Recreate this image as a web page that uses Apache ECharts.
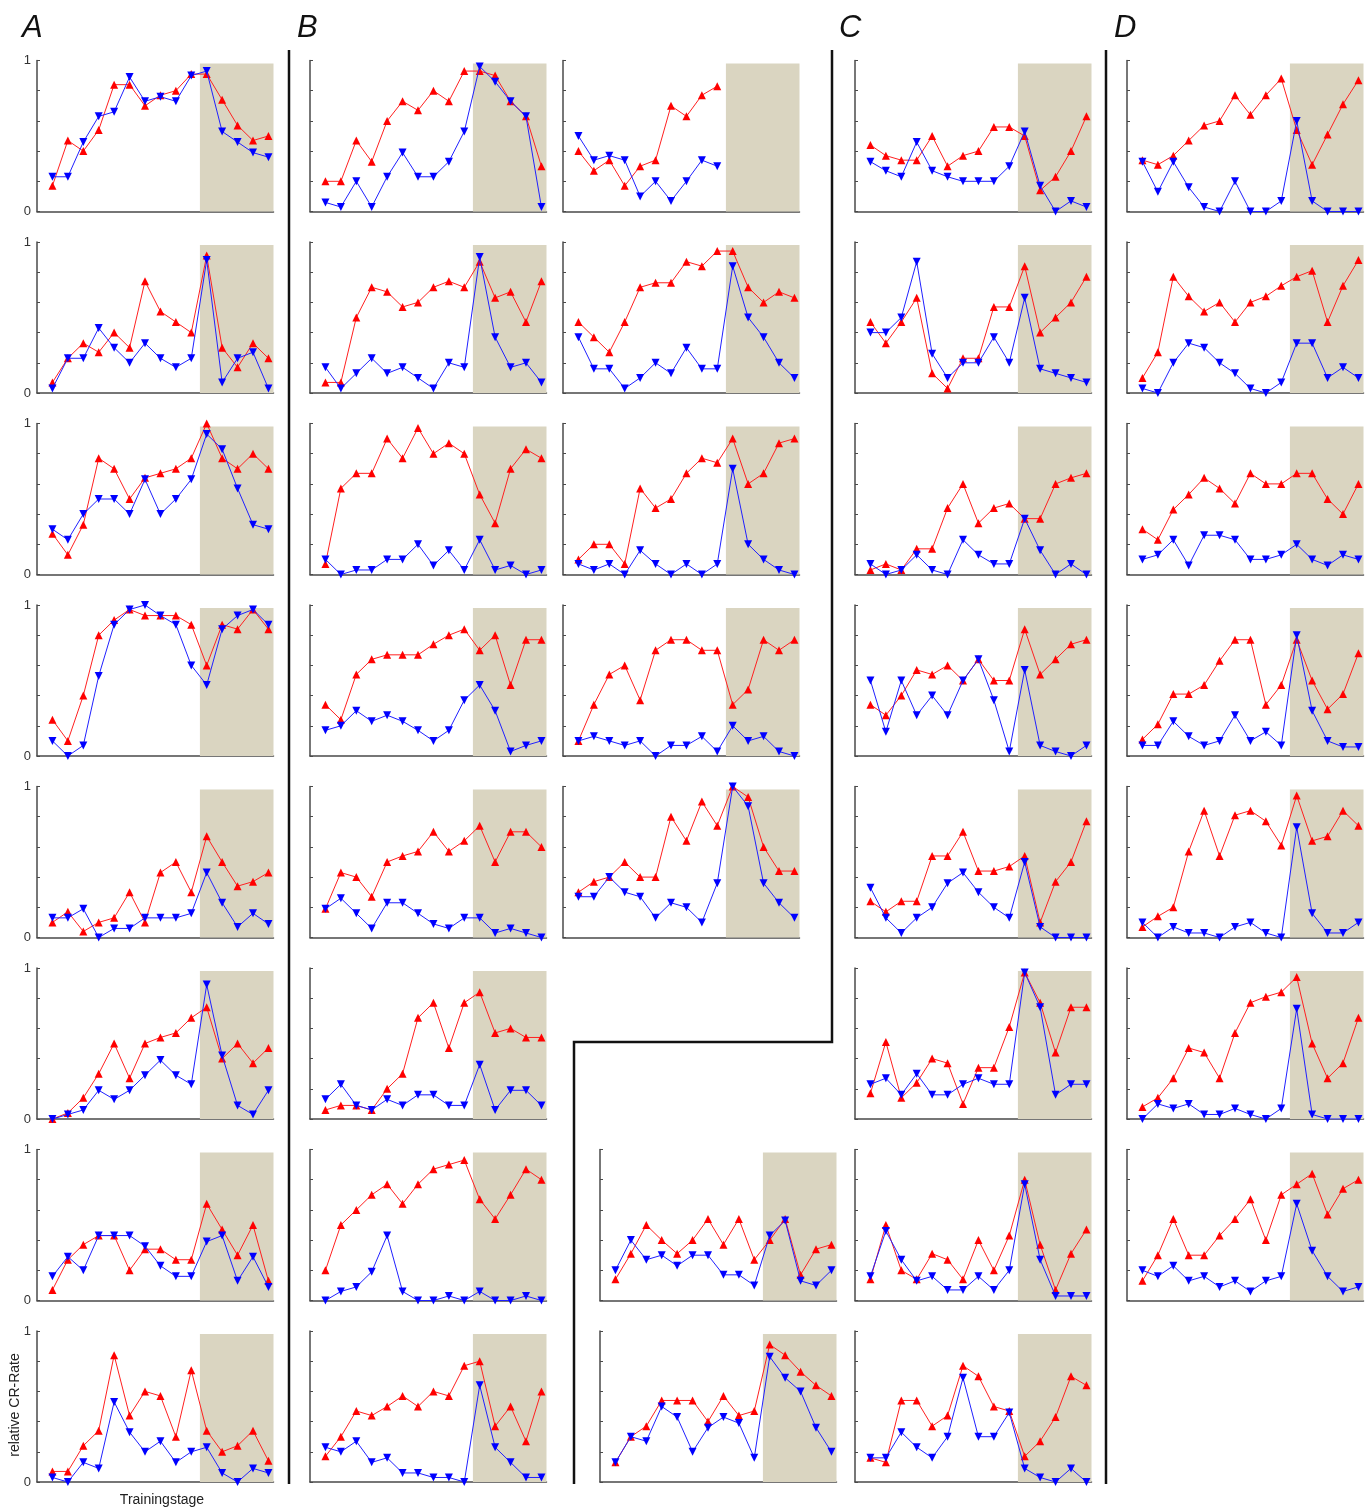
<!DOCTYPE html>
<html><head><meta charset="utf-8">
<script src="https://cdn.jsdelivr.net/npm/echarts@6/dist/echarts.min.js"></script>
<style>html,body{margin:0;padding:0;background:#fff}#c{width:1372px;height:1508px}</style>
</head><body><div id="c"></div>
<script>
const stages = [1,2,3,4,5,6,7,8,9,10,11,12,13,14,15];
const yTickLabels = ['0','1'];
const panelLetters = ['A','B','C','D'];

const A1r = [0.17,0.47,0.40,0.54,0.84,0.84,0.70,0.77,0.80,0.91,0.91,0.74,0.57,0.47,0.50];
const A1b = [0.23,0.23,0.46,0.63,0.66,0.89,0.73,0.76,0.73,0.90,0.93,0.53,0.46,0.39,0.36];
const A2r = [0.07,0.23,0.33,0.27,0.40,0.30,0.74,0.54,0.47,0.40,0.91,0.30,0.17,0.33,0.23];
const A2b = [0.03,0.23,0.23,0.43,0.30,0.20,0.33,0.23,0.17,0.23,0.88,0.07,0.23,0.27,0.03];
const A3r = [0.27,0.13,0.33,0.77,0.70,0.50,0.64,0.67,0.70,0.77,1.00,0.77,0.70,0.80,0.70];
const A3b = [0.30,0.23,0.40,0.50,0.50,0.40,0.63,0.40,0.50,0.63,0.93,0.83,0.57,0.33,0.30];
const A4r = [0.24,0.10,0.40,0.80,0.90,0.97,0.93,0.93,0.93,0.87,0.60,0.87,0.84,0.97,0.84];
const A4b = [0.10,0.00,0.07,0.53,0.87,0.97,1.00,0.93,0.87,0.60,0.47,0.84,0.93,0.97,0.87];
const A5r = [0.10,0.17,0.04,0.10,0.13,0.30,0.10,0.43,0.50,0.30,0.67,0.50,0.34,0.37,0.43];
const A5b = [0.13,0.13,0.19,0.00,0.06,0.06,0.13,0.13,0.13,0.16,0.43,0.23,0.07,0.16,0.09];
const A6r = [0.00,0.04,0.14,0.30,0.50,0.27,0.50,0.54,0.57,0.67,0.74,0.40,0.50,0.37,0.47];
const A6b = [0.00,0.03,0.06,0.19,0.13,0.19,0.29,0.39,0.29,0.23,0.89,0.42,0.09,0.03,0.19];
const A7r = [0.07,0.27,0.37,0.43,0.43,0.20,0.34,0.34,0.27,0.27,0.64,0.47,0.30,0.50,0.13];
const A7b = [0.16,0.29,0.20,0.43,0.43,0.43,0.36,0.23,0.16,0.16,0.39,0.43,0.13,0.29,0.09];
const A8r = [0.07,0.07,0.24,0.34,0.84,0.44,0.60,0.57,0.30,0.74,0.34,0.20,0.24,0.34,0.14];
const A8b = [0.03,0.00,0.13,0.09,0.53,0.33,0.20,0.27,0.13,0.20,0.23,0.06,0.00,0.09,0.06];

const B1r = [0.20,0.20,0.47,0.33,0.60,0.73,0.67,0.80,0.73,0.93,0.93,0.90,0.73,0.63,0.30];
const B1b = [0.06,0.03,0.20,0.03,0.23,0.39,0.23,0.23,0.33,0.53,0.96,0.86,0.73,0.63,0.03];
const B2r = [0.07,0.07,0.50,0.70,0.67,0.57,0.60,0.70,0.74,0.70,0.87,0.63,0.67,0.47,0.74];
const B2b = [0.17,0.03,0.13,0.23,0.13,0.17,0.10,0.03,0.20,0.17,0.90,0.37,0.17,0.20,0.07];
const B3r = [0.07,0.57,0.67,0.67,0.90,0.77,0.97,0.80,0.87,0.80,0.53,0.34,0.70,0.83,0.77];
const B3b = [0.10,0.00,0.03,0.03,0.10,0.10,0.20,0.06,0.16,0.03,0.23,0.03,0.06,0.00,0.03];
const B4r = [0.34,0.24,0.54,0.64,0.67,0.67,0.67,0.74,0.80,0.84,0.70,0.80,0.47,0.77,0.77];
const B4b = [0.17,0.20,0.30,0.23,0.27,0.23,0.17,0.10,0.17,0.37,0.47,0.30,0.03,0.07,0.10];
const B5r = [0.19,0.43,0.40,0.27,0.50,0.54,0.57,0.70,0.57,0.64,0.74,0.50,0.70,0.70,0.60];
const B5b = [0.19,0.26,0.16,0.06,0.23,0.23,0.16,0.09,0.06,0.13,0.13,0.03,0.06,0.03,0.00];
const B6r = [0.06,0.09,0.09,0.06,0.20,0.30,0.67,0.77,0.47,0.77,0.84,0.57,0.60,0.54,0.54];
const B6b = [0.13,0.23,0.09,0.06,0.13,0.09,0.16,0.16,0.09,0.09,0.36,0.06,0.19,0.19,0.09];
const B7r = [0.20,0.50,0.60,0.70,0.77,0.64,0.77,0.87,0.90,0.93,0.67,0.54,0.70,0.87,0.80];
const B7b = [0.00,0.06,0.09,0.19,0.43,0.06,0.00,0.00,0.03,0.00,0.06,0.00,0.00,0.03,0.00];
const B8r = [0.17,0.30,0.47,0.44,0.50,0.57,0.50,0.60,0.57,0.77,0.80,0.37,0.50,0.27,0.60];
const B8b = [0.23,0.20,0.27,0.13,0.16,0.06,0.06,0.03,0.03,0.00,0.64,0.23,0.13,0.03,0.03];

const BR1r = [0.40,0.27,0.34,0.17,0.30,0.34,0.70,0.63,0.77,0.83,null,null,null,null,null];
const BR1b = [0.50,0.34,0.37,0.34,0.10,0.20,0.07,0.20,0.34,0.30,null,null,null,null,null];
const BR2r = [0.47,0.37,0.27,0.47,0.70,0.73,0.73,0.87,0.84,0.94,0.94,0.70,0.60,0.67,0.63];
const BR2b = [0.37,0.16,0.16,0.03,0.10,0.20,0.13,0.30,0.16,0.16,0.84,0.50,0.37,0.20,0.10];
const BR3r = [0.10,0.20,0.20,0.07,0.57,0.44,0.50,0.67,0.77,0.74,0.90,0.60,0.67,0.87,0.90];
const BR3b = [0.07,0.03,0.07,0.00,0.16,0.07,0.00,0.07,0.00,0.07,0.70,0.20,0.10,0.03,0.00];
const BR4r = [0.10,0.34,0.54,0.60,0.37,0.70,0.77,0.77,0.70,0.70,0.34,0.44,0.77,0.70,0.77];
const BR4b = [0.10,0.13,0.10,0.07,0.10,0.00,0.07,0.07,0.13,0.03,0.20,0.10,0.13,0.03,0.00];
const BR5r = [0.30,0.37,0.40,0.50,0.40,0.40,0.80,0.64,0.90,0.74,1.00,0.93,0.60,0.44,0.44];
const BR5b = [0.27,0.27,0.40,0.30,0.27,0.13,0.23,0.20,0.10,0.36,1.00,0.87,0.36,0.23,0.13];

const CX7r = [0.14,0.31,0.50,0.40,0.31,0.40,0.54,0.37,0.54,0.27,0.40,0.54,0.17,0.34,0.37];
const CX7b = [0.20,0.40,0.27,0.30,0.23,0.30,0.30,0.17,0.17,0.10,0.43,0.53,0.13,0.10,0.20];
const CX8r = [0.13,0.30,0.37,0.54,0.54,0.54,0.40,0.57,0.44,0.47,0.91,0.84,0.73,0.64,0.57];
const CX8b = [0.13,0.30,0.27,0.50,0.43,0.20,0.36,0.43,0.39,0.16,0.83,0.69,0.60,0.36,0.20];

const C1r = [0.44,0.37,0.34,0.34,0.50,0.30,0.37,0.40,0.56,0.56,0.50,0.14,0.23,0.40,0.63];
const C1b = [0.33,0.27,0.23,0.46,0.27,0.23,0.20,0.20,0.20,0.30,0.53,0.17,0.00,0.07,0.03];
const C2r = [0.47,0.33,0.47,0.63,0.13,0.03,0.23,0.23,0.57,0.57,0.84,0.40,0.50,0.60,0.77];
const C2b = [0.40,0.40,0.50,0.87,0.26,0.10,0.20,0.20,0.37,0.20,0.63,0.16,0.13,0.10,0.07];
const C3r = [0.03,0.07,0.03,0.17,0.17,0.44,0.60,0.34,0.44,0.47,0.37,0.37,0.60,0.64,0.67];
const C3b = [0.07,0.00,0.03,0.13,0.03,0.00,0.23,0.13,0.07,0.07,0.37,0.16,0.00,0.07,0.00];
const C4r = [0.34,0.27,0.40,0.57,0.54,0.60,0.50,0.64,0.50,0.50,0.84,0.54,0.64,0.74,0.77];
const C4b = [0.50,0.16,0.50,0.27,0.40,0.27,0.50,0.64,0.37,0.03,0.57,0.07,0.03,0.00,0.07];
const C5r = [0.24,0.17,0.24,0.24,0.54,0.54,0.70,0.44,0.44,0.47,0.54,0.10,0.37,0.50,0.77];
const C5b = [0.33,0.13,0.03,0.13,0.20,0.36,0.43,0.30,0.20,0.13,0.50,0.07,0.00,0.00,0.00];
const C6r = [0.17,0.51,0.14,0.24,0.40,0.37,0.10,0.34,0.34,0.61,0.97,0.77,0.44,0.74,0.74];
const C6b = [0.23,0.27,0.16,0.30,0.16,0.16,0.23,0.27,0.23,0.23,0.97,0.74,0.16,0.23,0.23];
const C7r = [0.14,0.50,0.20,0.14,0.31,0.27,0.14,0.40,0.20,0.43,0.80,0.37,0.07,0.31,0.47];
const C7b = [0.16,0.46,0.27,0.13,0.16,0.07,0.07,0.16,0.07,0.20,0.77,0.27,0.03,0.03,0.03];
const C8r = [0.16,0.13,0.54,0.54,0.37,0.44,0.77,0.70,0.50,0.47,0.17,0.27,0.43,0.70,0.64];
const C8b = [0.16,0.16,0.33,0.23,0.16,0.30,0.69,0.30,0.30,0.46,0.09,0.03,0.00,0.09,0.00];

const D1r = [0.34,0.31,0.37,0.47,0.57,0.60,0.77,0.64,0.77,0.88,0.54,0.31,0.51,0.71,0.87];
const D1b = [0.33,0.13,0.33,0.16,0.03,0.00,0.20,0.00,0.00,0.07,0.60,0.07,0.00,0.00,0.00];
const D2r = [0.10,0.27,0.77,0.64,0.54,0.60,0.47,0.60,0.64,0.71,0.77,0.81,0.47,0.71,0.88];
const D2b = [0.03,0.00,0.20,0.33,0.30,0.20,0.13,0.03,0.00,0.07,0.33,0.33,0.10,0.17,0.10];
const D3r = [0.30,0.23,0.43,0.53,0.64,0.57,0.47,0.67,0.60,0.60,0.67,0.67,0.50,0.40,0.60];
const D3b = [0.10,0.13,0.23,0.06,0.26,0.26,0.23,0.10,0.10,0.13,0.20,0.10,0.06,0.13,0.10];
const D4r = [0.11,0.21,0.41,0.41,0.47,0.63,0.77,0.77,0.34,0.47,0.77,0.50,0.31,0.41,0.68];
const D4b = [0.07,0.07,0.23,0.13,0.07,0.10,0.27,0.10,0.16,0.07,0.80,0.30,0.10,0.06,0.06];
const D5r = [0.07,0.14,0.20,0.57,0.84,0.54,0.81,0.84,0.77,0.61,0.94,0.64,0.67,0.84,0.74];
const D5b = [0.10,0.00,0.07,0.03,0.03,0.00,0.07,0.10,0.03,0.00,0.73,0.16,0.03,0.03,0.10];
const D6r = [0.08,0.14,0.27,0.47,0.44,0.27,0.57,0.77,0.81,0.84,0.94,0.50,0.27,0.37,0.67];
const D6b = [0.00,0.10,0.07,0.10,0.03,0.03,0.07,0.03,0.00,0.07,0.73,0.03,0.00,0.00,0.00];
const D7r = [0.13,0.30,0.54,0.30,0.30,0.43,0.54,0.67,0.40,0.70,0.77,0.84,0.57,0.74,0.80];
const D7b = [0.20,0.16,0.23,0.13,0.16,0.09,0.13,0.06,0.13,0.16,0.64,0.33,0.16,0.06,0.09];

// layout: [column, row index, red, blue, show y labels]
const colX = {A:37, B:310, BR:563, CX:600, C:855, D:1127};
const panels = [
  ['A',0,A1r,A1b,true],['A',1,A2r,A2b,true],['A',2,A3r,A3b,true],['A',3,A4r,A4b,true],
  ['A',4,A5r,A5b,true],['A',5,A6r,A6b,true],['A',6,A7r,A7b,true],['A',7,A8r,A8b,true],
  ['B',0,B1r,B1b],['B',1,B2r,B2b],['B',2,B3r,B3b],['B',3,B4r,B4b],
  ['B',4,B5r,B5b],['B',5,B6r,B6b],['B',6,B7r,B7b],['B',7,B8r,B8b],
  ['BR',0,BR1r,BR1b],['BR',1,BR2r,BR2b],['BR',2,BR3r,BR3b],['BR',3,BR4r,BR4b],['BR',4,BR5r,BR5b],
  ['CX',6,CX7r,CX7b],['CX',7,CX8r,CX8b],
  ['C',0,C1r,C1b],['C',1,C2r,C2b],['C',2,C3r,C3b],['C',3,C4r,C4b],
  ['C',4,C5r,C5b],['C',5,C6r,C6b],['C',6,C7r,C7b],['C',7,C8r,C8b],
  ['D',0,D1r,D1b],['D',1,D2r,D2b],['D',2,D3r,D3b],['D',3,D4r,D4b],
  ['D',4,D5r,D5b],['D',5,D6r,D6b],['D',6,D7r,D7b]
];

const X_MAX = 15.33, SHADE_FROM = 10.56, SHADE_TOP = 0.98;
const PH = 151, PW = 236.5;
const zeroY = r => 211.5 + 181.5*r;
const axisColor = '#4a4a4a';
const FONT = 'Liberation Sans, Arial, sans-serif';

const grid = [], xAxis = [], yAxis = [], series = [];
panels.forEach((p, i) => {
  const [col, row, red, blue, lab] = p;
  grid.push({left: colX[col], top: zeroY(row) - PH, width: PW, height: PH});
  xAxis.push({type:'value', gridIndex:i, min:0, max:X_MAX, show:true,
    axisLine:{show:true, onZero:false, lineStyle:{color:axisColor, width:1.5}},
    axisTick:{show:false}, axisLabel:{show:false}, splitLine:{show:false}});
  yAxis.push({type:'value', gridIndex:i, min:0, max:1, interval:0.2,
    axisLine:{show:true, lineStyle:{color:axisColor, width:1.5}},
    axisTick:{show:true, inside:true, length:3, lineStyle:{color:axisColor, width:1}},
    axisLabel:{show:!!lab, margin:6, fontSize:13, color:'#333', fontFamily:FONT,
      formatter: v => (Math.abs(v) < 1e-9 ? yTickLabels[0] : (Math.abs(v-1) < 1e-9 ? yTickLabels[1] : ''))},
    splitLine:{show:false}});
  series.push({type:'line', xAxisIndex:i, yAxisIndex:i, data:[], silent:true, z:1,
    markArea:{silent:true, itemStyle:{color:'#dad5c1'},
      data:[[{coord:[SHADE_FROM,0]},{coord:[X_MAX,SHADE_TOP]}]]}});
  series.push({type:'line', xAxisIndex:i, yAxisIndex:i, z:3,
    data: stages.map((s,k)=>[s, red[k]]), connectNulls:false,
    symbol:'triangle', symbolSize:8, showSymbol:true,
    lineStyle:{color:'#ff2020', width:1}, itemStyle:{color:'#ff0000'}, animation:false});
  series.push({type:'line', xAxisIndex:i, yAxisIndex:i, z:4,
    data: stages.map((s,k)=>[s, blue[k]]), connectNulls:false,
    symbol:'triangle', symbolRotate:180, symbolSize:8, showSymbol:true,
    lineStyle:{color:'#2020ff', width:1}, itemStyle:{color:'#0000ff'}, animation:false});
});

const sep = (x1,y1,x2,y2) => ({type:'line', shape:{x1,y1,x2,y2}, style:{stroke:'#111', lineWidth:2.5}, z:10});
const letterPos = [[22,0],[297,0],[839,0],[1114,0]];
const graphic = [
  sep(289,50,289,1484), sep(1106,50,1106,1484),
  {type:'polyline', shape:{points:[[832,50],[832,1042],[574,1042],[574,1484]]}, style:{stroke:'#111', lineWidth:2.5, fill:null}, z:10},
  ...panelLetters.map((t,i)=>({type:'text', left:letterPos[i][0], top:13,
    style:{text:t, font:'italic 31px Liberation Sans, Arial, sans-serif', fill:'#111'}})),
  {type:'text', x:22, y:1405, rotation:Math.PI/2,
    style:{text:'relative CR-Rate', font:'14px Liberation Sans, Arial, sans-serif', fill:'#222', align:'center', verticalAlign:'bottom'}},
  {type:'text', x:162, y:1493,
    style:{text:'Trainingstage', font:'14px Liberation Sans, Arial, sans-serif', fill:'#222', align:'center', verticalAlign:'top'}}
];

const chart = echarts.init(document.getElementById('c'), null, {renderer:'canvas'});
chart.setOption({animation:false, backgroundColor:'#fff', grid, xAxis, yAxis, series, graphic});
</script></body></html>
